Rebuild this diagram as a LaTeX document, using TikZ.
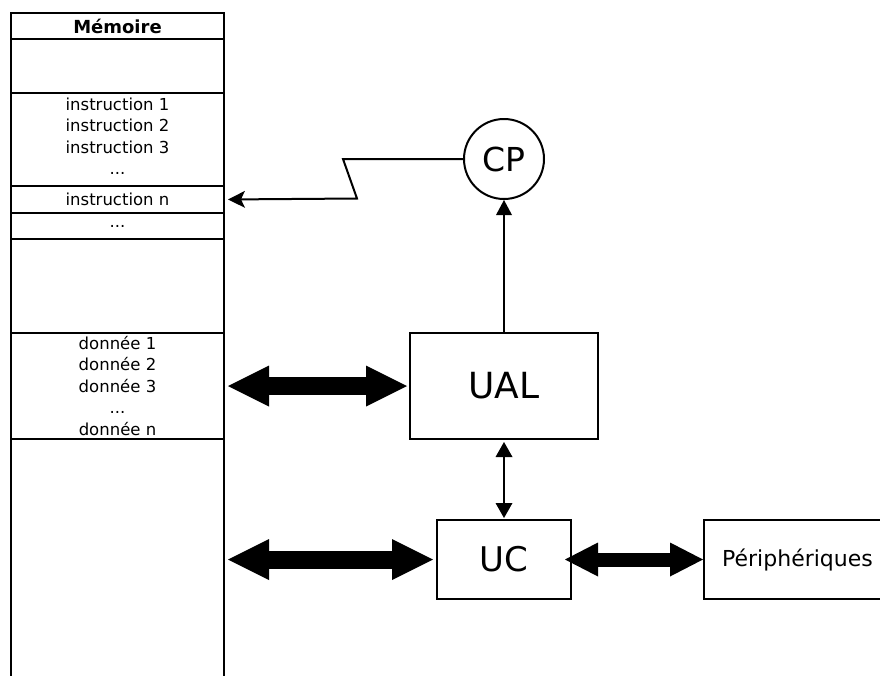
\documentclass[tikz,border=0pt]{standalone}
\usepackage{fontspec}
\setmainfont{DejaVu Sans}
\usetikzlibrary{arrows.meta}
\begin{document}
\begin{tikzpicture}[x=1pt,y=-1pt,
  cell/.style={draw, line width=2pt, minimum width=213pt, inner sep=0pt,
    anchor=north west, align=center, font=\fontsize{16.5}{21.5}\selectfont},
  unit/.style={draw, line width=2pt, inner sep=0pt},
  thinarrow/.style={line width=2pt},
  bigarrow/.style={line width=18pt,
    {Triangle[length=41pt,width=41pt,line width=0pt]}-{Triangle[length=41pt,width=41pt,line width=0pt]}},
  midarrow/.style={line width=14pt,
    {Triangle[length=33pt,width=34pt,line width=0pt]}-{Triangle[length=33pt,width=34pt,line width=0pt]}}
]
\useasboundingbox[fill=white] (0,0) rectangle (880,675);

% memory column
\node[cell, minimum height=26pt, font=\fontsize{18}{20}\selectfont\bfseries] (title) at (10,12) {Mémoire};
\node[cell, minimum height=54pt] (empty1) at (10,38) {};
\node[cell, minimum height=93pt, text depth=7pt] (instr) at (10,92) {instruction 1\\instruction 2\\instruction 3\\...};
\node[cell, minimum height=27pt] (instrn) at (10,185) {instruction n};
\node[cell, minimum height=26pt] (dots) at (10,212) {...};
\node[cell, minimum height=94pt] (empty2) at (10,238) {};
\node[cell, minimum height=106pt] (data) at (10,332) {donnée 1\\donnée 2\\donnée 3\\...\\donnée n};
\node[cell, minimum height=260pt] (rest) at (10,438) {};

% units
\node[unit, circle, minimum size=80pt, font=\fontsize{33}{36}\selectfont] (cp) at (504,159) {CP};
\node[unit, minimum width=188pt, minimum height=106pt, font=\fontsize{36}{40}\selectfont] (ual) at (504,386) {UAL};
\node[unit, minimum width=134pt, minimum height=79pt, font=\fontsize{34}{38}\selectfont] (uc) at (504,559.5) {UC};
\node[unit, minimum width=187pt, minimum height=79pt, font=\fontsize{22}{24}\selectfont] (periph) at (797.5,559.5) {Périphériques};

% connectors
\coordinate (z1) at (343,159);
\coordinate (z2) at (357,198.5);
\draw[thinarrow, -{Stealth[length=17pt,width=17pt,inset=4pt,line width=0pt]}, shorten >=3pt]
  (cp.west) -- (z1) -- (z2) -- (instrn.east);
\draw[thinarrow, -{Triangle[length=15pt,width=16pt,line width=0pt]}] (ual.north) -- (cp.south);
\draw[thinarrow, {Triangle[length=15pt,width=17pt,line width=0pt]}-{Triangle[length=15pt,width=17pt,line width=0pt]},
  shorten <=2pt, shorten >=1pt] (ual.south) -- (uc.north);

\coordinate (m1) at (228,386);
\coordinate (m2) at (228,559.5);
\draw[bigarrow, shorten >=2pt] (m1) -- (ual.west);
\draw[bigarrow, shorten >=3pt] (m2) -- (uc.west);
\draw[midarrow, shorten <=-7pt] (uc.east) -- (periph.west);
\end{tikzpicture}
\end{document}
